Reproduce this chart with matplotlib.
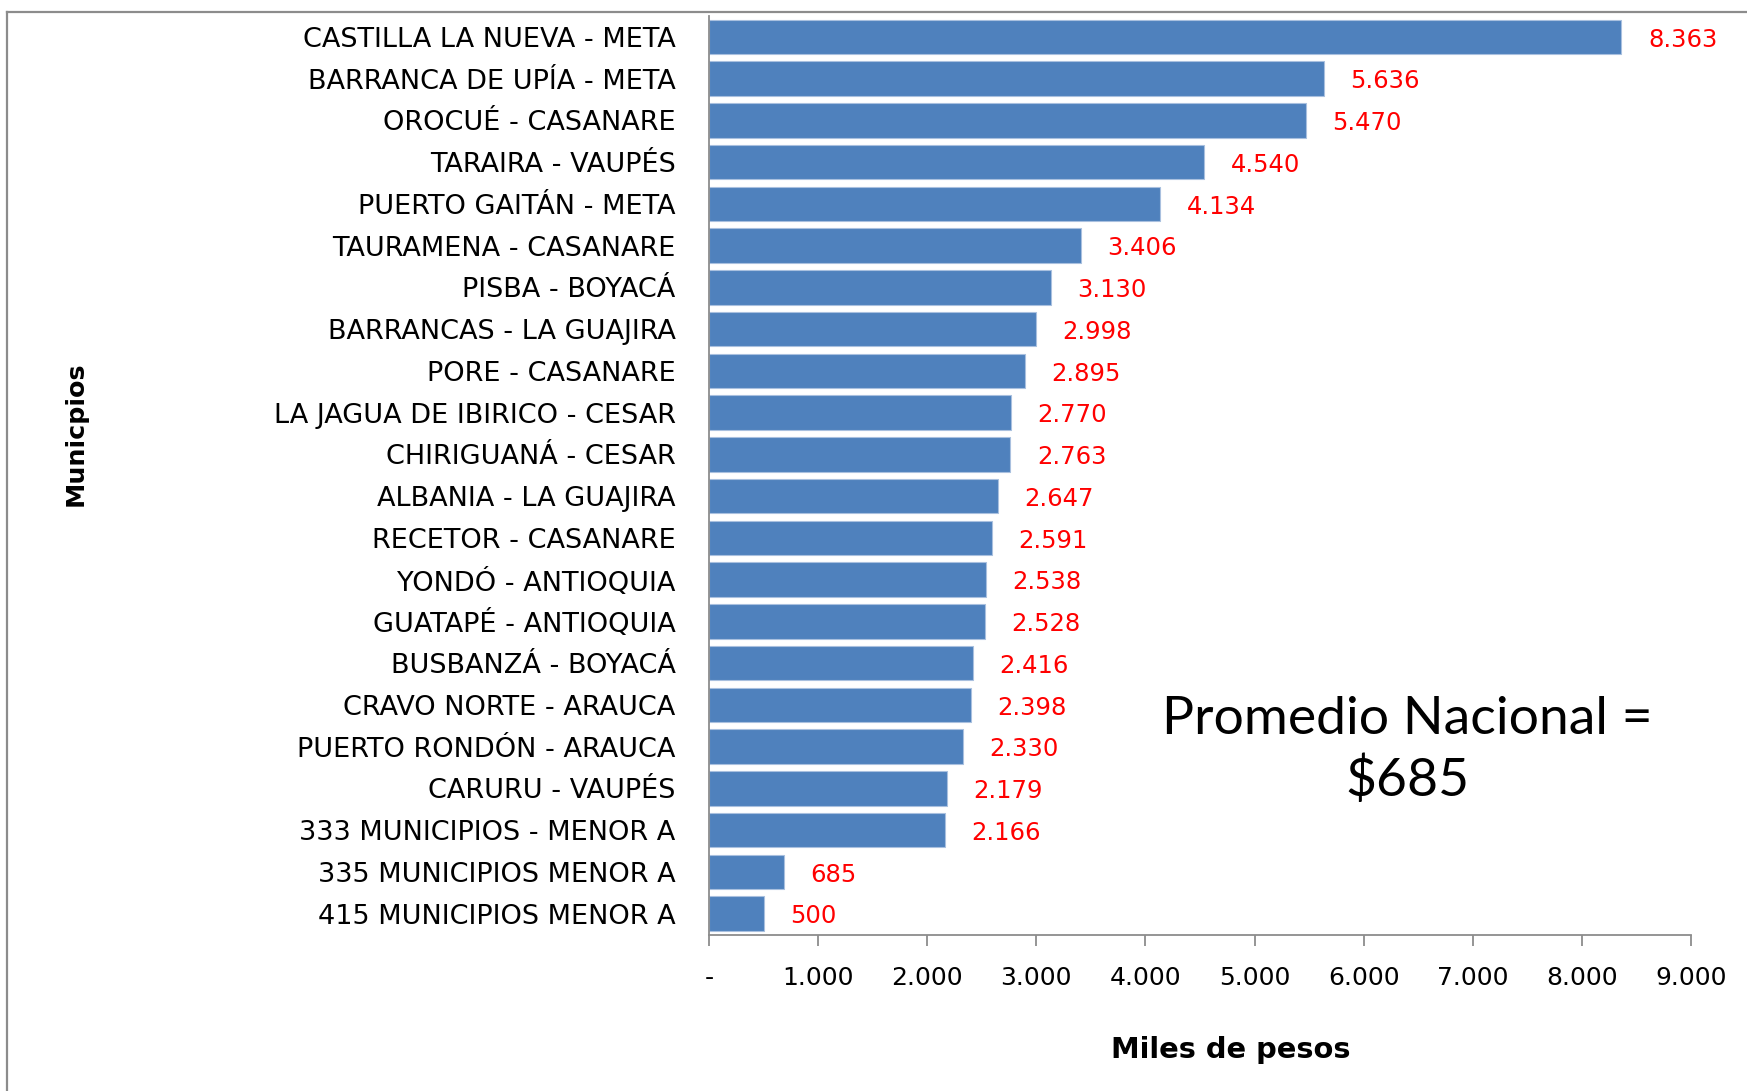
import matplotlib
matplotlib.use("Agg")
import matplotlib.pyplot as plt
from matplotlib.lines import Line2D

plt.rcParams['font.family'] = ['DejaVu Sans']

municipios = [
    "CASTILLA LA NUEVA - META",
    "BARRANCA DE UPÍA - META",
    "OROCUÉ - CASANARE",
    "TARAIRA - VAUPÉS",
    "PUERTO GAITÁN - META",
    "TAURAMENA - CASANARE",
    "PISBA - BOYACÁ",
    "BARRANCAS - LA GUAJIRA",
    "PORE - CASANARE",
    "LA JAGUA DE IBIRICO - CESAR",
    "CHIRIGUANÁ - CESAR",
    "ALBANIA - LA GUAJIRA",
    "RECETOR - CASANARE",
    "YONDÓ - ANTIOQUIA",
    "GUATAPÉ - ANTIOQUIA",
    "BUSBANZÁ - BOYACÁ",
    "CRAVO NORTE - ARAUCA",
    "PUERTO RONDÓN - ARAUCA",
    "CARURU - VAUPÉS",
    "333 MUNICIPIOS - MENOR A",
    "335 MUNICIPIOS MENOR A",
    "415 MUNICIPIOS MENOR A",
]
valores = [8363, 5636, 5470, 4540, 4134, 3406, 3130, 2998, 2895, 2770, 2763,
           2647, 2591, 2538, 2528, 2416, 2398, 2330, 2179, 2166, 685, 500]
xticks = [0, 1000, 2000, 3000, 4000, 5000, 6000, 7000, 8000, 9000]
xticklabels = ["-", "1.000", "2.000", "3.000", "4.000", "5.000", "6.000",
               "7.000", "8.000", "9.000"]
nota_linea1 = "Promedio Nacional ="
nota_linea2 = "$685"


def fmt(v):
    return f"{v:,}".replace(",", ".")


W, H = 1747, 1091
fig = plt.figure(figsize=(W / 100, H / 100), dpi=100)

# outer frame (top and left edges visible)
fig.add_artist(Line2D([7 / W, 7 / W], [0, 1 - 12 / H], transform=fig.transFigure,
                      color="#8c8c8c", lw=1.6))
fig.add_artist(Line2D([7 / W, 1], [1 - 12 / H, 1 - 12 / H], transform=fig.transFigure,
                      color="#8c8c8c", lw=1.6))

left, right = 709 / W, 1691 / W
top, bottom = 1 - 16 / H, 1 - 934.5 / H
ax = fig.add_axes([left, bottom, right - left, top - bottom])

n = len(valores)
ypos = list(range(n))
ax.barh(ypos, valores, height=0.83, color="#4F81BD", edgecolor="#A9C0DF", linewidth=0.8)
ax.set_ylim(n - 0.5, -0.5)
ax.set_xlim(0, 9000)

for y, v in zip(ypos, valores):
    ax.annotate(fmt(v), xy=(v, y), xytext=(19, -2), textcoords="offset points",
                ha="left", va="center", color="red", fontsize=17.5)

ax.set_yticks(ypos)
ax.set_yticklabels(municipios, fontsize=19.5)
ax.tick_params(axis="y", length=0, pad=24)

ax.set_xticks(xticks)
ax.set_xticklabels(xticklabels, fontsize=18)
ax.tick_params(axis="x", direction="out", length=8, width=1.3, color="#8c8c8c", pad=15)

for s in ["top", "right"]:
    ax.spines[s].set_visible(False)
ax.spines["left"].set_color("#8c8c8c")
ax.spines["bottom"].set_color("#8c8c8c")
ax.spines["left"].set_linewidth(1.3)
ax.spines["bottom"].set_linewidth(1.3)

fig.text(76 / W, 1 - 434 / H, "Municpios", rotation=90, ha="center", va="center",
         fontsize=18.3, fontweight="bold")
fig.text(1231 / W, 1 - 1050 / H, "Miles de pesos", ha="center", va="center",
         fontsize=20.8, fontweight="bold")

fig.text(1407 / W, 1 - 719 / H, nota_linea1, ha="center", va="center", fontsize=38.5,
         family=['Lato', 'DejaVu Sans'])
fig.text(1407 / W, 1 - 780 / H, nota_linea2, ha="center", va="center", fontsize=38.5,
         family=['Lato', 'DejaVu Sans'])

fig.savefig("out.png", dpi=100)
